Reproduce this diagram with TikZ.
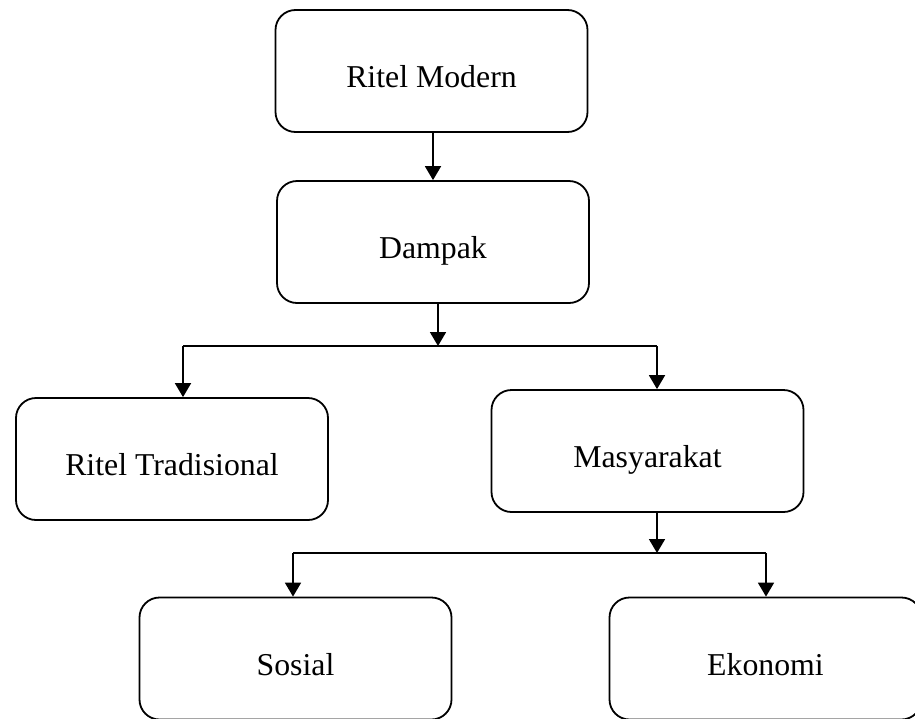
\documentclass[tikz,border=0pt]{standalone}
\usepackage{fontspec}
\setmainfont{Liberation Serif}
\usetikzlibrary{arrows.meta}
\begin{document}
\begin{tikzpicture}[x=1pt,y=-1pt,
  box/.style={draw, line width=1.8pt, rounded corners=20pt, minimum width=312pt, minimum height=122pt,
    inner sep=0pt, text height=33pt, text depth=0pt, font=\fontsize{31.8}{36}\selectfont},
  conn/.style={line width=1.8pt},
  arr/.style={conn, -{Triangle[width=16pt,length=14pt]}}]
\path[use as bounding box, clip] (0,0) rectangle (915,718);
\node[box] (rm) at (431.5,71) {Ritel Modern};
\node[box] (dp) at (433,242) {Dampak};
\node[box] (rt) at (172,459) {Ritel Tradisional};
\node[box] (ms) at (647.5,451) {Masyarakat};
\node[box] (so) at (295.5,658.5) {Sosial};
\node[box] (ek) at (765.5,658.5) {Ekonomi};
\coordinate (a1) at (433,0);
\coordinate (j1) at (438,346);
\coordinate (j1l) at (183,346);
\coordinate (j1r) at (657,346);
\coordinate (j2) at (657,553);
\coordinate (j2l) at (293,553);
\coordinate (j2r) at (766,553);
\draw[arr] (rm.south -| a1) -- (dp.north -| a1);
\draw[arr] (dp.south -| j1) -- (j1);
\draw[conn] (j1l) -- (j1r);
\draw[arr] (j1l) -- (rt.north -| j1l);
\draw[arr] (j1r) -- (ms.north -| j1r);
\draw[arr] (ms.south -| j2) -- (j2);
\draw[conn] (j2l) -- (j2r);
\draw[arr] (j2l) -- (so.north -| j2l);
\draw[arr] (j2r) -- (ek.north -| j2r);
\end{tikzpicture}
\end{document}
